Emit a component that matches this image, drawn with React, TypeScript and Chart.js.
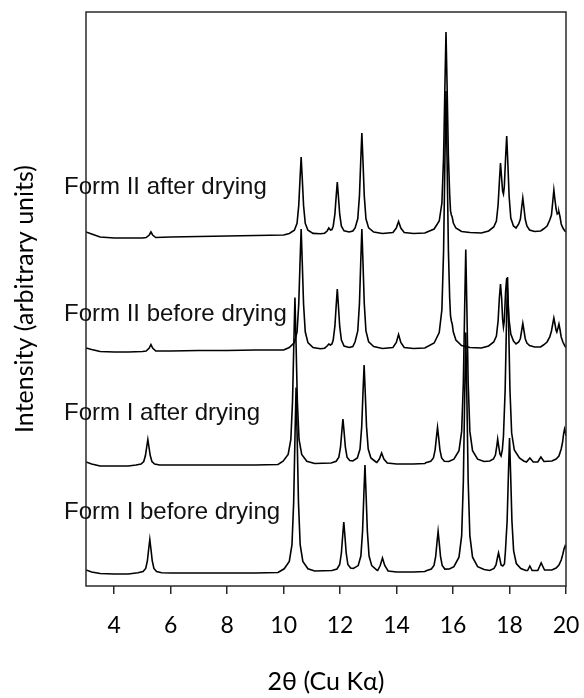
import React, { useEffect, useRef } from 'react';
import { Chart, registerables } from 'chart.js';

Chart.register(...registerables);

// 2θ tick labels
const X_TICKS = [4, 6, 8, 10, 12, 14, 16, 18, 20];

// trace names (top to bottom)
const SERIES_NAMES = [
  'Form II after drying',
  'Form II before drying',
  'Form I after drying',
  'Form I before drying',
];

// label levels (intensity units, same offset scale as traces)
const LABEL_LEVELS = [392, 265, 166, 67];

// [2θ, offset intensity]
const FORM_II_AFTER: [number, number][] = [
  [3.0, 354], [3.2, 352], [3.5, 349], [4.0, 348], [4.5, 348], [5.0, 348],
  [5.13, 348.5], [5.24, 351], [5.3, 354], [5.36, 351], [5.47, 348.5],
  [6, 349], [7, 349.5], [8, 350], [9, 350.5], [10, 351],
  [10.2, 352.6], [10.38, 355.7], [10.475, 362.7], [10.535, 380.6], [10.58, 407], [10.62, 429], [10.66, 407], [10.705, 380.6], [10.765, 362.7], [10.86, 355.7], [11.04, 352.6],
  [11.3, 352.2], [11.45, 352.8], [11.54, 355], [11.6, 358], [11.66, 356], [11.71, 356.5],
  [11.755, 359.8], [11.815, 371.8], [11.86, 389.4], [11.9, 404], [11.94, 389.4], [11.985, 371.8], [12.045, 359.8], [12.14, 355.1], [12.32, 354],
  [12.45, 355], [12.53, 358.1], [12.625, 367.2], [12.685, 390.4], [12.73, 424.7], [12.77, 453], [12.81, 424.7], [12.855, 390.4], [12.915, 367.2], [13.01, 358.1], [13.19, 354],
  [13.5, 352.5], [13.87, 353.5], [13.99, 358], [14.07, 364.5], [14.15, 358], [14.27, 353.5], [14.6, 352.5],
  [15.0, 353], [15.33, 357], [15.51, 365], [15.605, 383], [15.665, 429.4], [15.71, 497.7], [15.75, 554], [15.79, 497.7], [15.835, 429.4], [15.88, 392], [15.91, 375], [15.94, 371], [15.97, 369], [16.01, 363], [16.1, 358], [16.3, 354.5], [16.6, 353.5],
  [17.0, 353], [17.26, 355], [17.44, 359], [17.535, 365], [17.595, 381], [17.64, 404], [17.68, 423], [17.72, 408], [17.755, 395], [17.785, 392], [17.815, 399], [17.86, 428], [17.9, 450], [17.94, 423], [17.985, 390], [18.045, 368], [18.14, 360], [18.23, 358],
  [18.325, 362], [18.385, 367], [18.43, 378.5], [18.47, 388], [18.51, 378.5], [18.555, 367], [18.615, 360], [18.71, 356], [18.89, 354.5],
  [19.1, 355], [19.2, 357], [19.33, 360], [19.425, 366], [19.485, 371], [19.53, 384], [19.57, 396], [19.61, 386], [19.65, 377], [19.69, 372], [19.725, 373], [19.75, 374], [19.79, 369], [19.83, 362], [19.89, 358], [19.96, 355], [20.0, 354],
];

const FORM_II_BEFORE: [number, number][] = [
  [3.0, 238], [3.2, 236.5], [3.5, 234.5], [4.0, 234], [4.5, 234], [5.0, 234.5],
  [5.13, 235], [5.24, 238], [5.3, 241.5], [5.36, 238], [5.47, 235],
  [6, 235], [7, 235.5], [8, 235.5], [9, 236], [10, 236],
  [10.2, 238.4], [10.38, 243.3], [10.475, 254.2], [10.535, 282], [10.58, 323], [10.62, 357], [10.66, 323], [10.705, 282], [10.765, 254.2], [10.86, 243.3], [11.04, 238.4],
  [11.3, 237.2], [11.45, 237.8], [11.54, 240], [11.6, 242], [11.66, 241], [11.71, 242],
  [11.755, 246], [11.815, 259.8], [11.86, 280], [11.9, 297], [11.94, 280], [11.985, 259.8], [12.045, 246], [12.14, 240], [12.32, 238.5],
  [12.45, 239.5], [12.53, 244.2], [12.625, 255], [12.685, 282.6], [12.73, 323.4], [12.77, 357], [12.81, 323.4], [12.855, 282.6], [12.915, 255], [13.01, 244.2], [13.19, 239.4],
  [13.5, 237.5], [13.87, 238.5], [13.99, 243.5], [14.07, 251.5], [14.15, 243.5], [14.27, 238.5], [14.6, 237.5],
  [15.0, 238], [15.33, 243], [15.51, 253.4], [15.605, 276.5], [15.665, 335.7], [15.71, 423], [15.75, 495], [15.79, 423], [15.835, 335.7], [15.88, 288], [15.91, 270], [15.94, 265], [15.97, 262], [16.01, 254], [16.1, 246], [16.3, 240.5], [16.6, 238.5],
  [17.0, 238], [17.26, 240], [17.44, 244], [17.535, 250], [17.595, 265], [17.64, 288], [17.68, 302], [17.72, 288], [17.755, 267], [17.785, 259], [17.815, 265], [17.86, 294], [17.9, 308], [17.94, 289], [17.985, 266], [18.045, 252], [18.14, 245], [18.23, 242],
  [18.325, 244], [18.385, 247.5], [18.43, 255.5], [18.47, 262.5], [18.51, 255.5], [18.555, 247.5], [18.615, 243], [18.71, 240.5], [18.89, 239],
  [19.1, 239], [19.2, 241], [19.33, 244], [19.425, 249], [19.485, 255], [19.53, 262], [19.57, 268], [19.61, 262], [19.645, 256], [19.675, 254], [19.715, 258], [19.75, 262], [19.79, 256], [19.83, 249], [19.89, 244], [19.96, 240], [20.0, 238.5],
];

const FORM_I_AFTER: [number, number][] = [
  [3.0, 124], [3.2, 122], [3.5, 120], [4.0, 120], [4.5, 120],
  [4.77, 121], [4.95, 122], [5.045, 124.5], [5.105, 130.5], [5.15, 139], [5.19, 146.5], [5.23, 139], [5.275, 130.5], [5.335, 124.5], [5.43, 122], [5.61, 121],
  [6, 121], [7, 121], [8, 121], [9, 121], [9.8, 121.5],
  [9.98, 124.8], [10.16, 131.5], [10.255, 146.5], [10.315, 185], [10.36, 241.7], [10.4, 288.5], [10.44, 241.7], [10.485, 185], [10.545, 146.5], [10.64, 131.5], [10.82, 124.8], [11.1, 122.5],
  [11.68, 123], [11.86, 124.7], [11.955, 128.8], [12.015, 139], [12.06, 154.4], [12.1, 167], [12.14, 154.4], [12.185, 139], [12.245, 128.8], [12.34, 125.5], [12.45, 125],
  [12.61, 128], [12.705, 137], [12.765, 159.6], [12.81, 193.3], [12.85, 221], [12.89, 193.3], [12.935, 159.6], [12.995, 137], [13.09, 128], [13.27, 124],
  [13.3, 123.5], [13.39, 127], [13.47, 133], [13.55, 127], [13.67, 123],
  [14.0, 122], [14.6, 122], [15.0, 122.5],
  [15.03, 123.2], [15.21, 124.7], [15.305, 128], [15.365, 136.2], [15.41, 148.4], [15.45, 158.5], [15.49, 148.4], [15.535, 136.2], [15.595, 128], [15.69, 124.7], [15.85, 124.5],
  [16.03, 126.8], [16.21, 135.3], [16.305, 154.6], [16.365, 203.8], [16.41, 276.6], [16.45, 336.5], [16.49, 276.6], [16.535, 203.8], [16.595, 154.6], [16.69, 135.3], [16.87, 126.8], [17.1, 124.5],
  [17.3, 125], [17.43, 127], [17.5, 131], [17.545, 139], [17.58, 147], [17.615, 140], [17.66, 132], [17.7, 130], [17.745, 136], [17.785, 150], [17.845, 196], [17.89, 260], [17.93, 309], [17.97, 260], [18.015, 196], [18.075, 153], [18.17, 136], [18.35, 128], [18.5, 125],
  [18.6, 124], [18.72, 128], [18.84, 124],
  [19.0, 124], [19.11, 129], [19.22, 124.5],
  [19.5, 125], [19.65, 127], [19.75, 130], [19.83, 137], [19.88, 144], [19.915, 152], [19.95, 157], [19.98, 154], [20.0, 150],
];

const FORM_I_BEFORE: [number, number][] = [
  [3.0, 16], [3.2, 14], [3.5, 12.5], [4.0, 12], [4.5, 12],
  [4.84, 13.2], [5.02, 14.5], [5.115, 17.6], [5.175, 25.4], [5.22, 37], [5.26, 46.5], [5.3, 37], [5.345, 25.4], [5.405, 17.6], [5.5, 14.5], [5.68, 13.2],
  [6, 13], [7, 13], [8, 13], [9, 13], [9.8, 13.5],
  [10.02, 17.2], [10.2, 24.6], [10.295, 41.3], [10.355, 83.8], [10.4, 146.7], [10.44, 198.5], [10.48, 146.7], [10.525, 83.8], [10.585, 41.3], [10.68, 24.6], [10.86, 17.2], [11.1, 15],
  [11.71, 15.5], [11.89, 17], [11.985, 21.5], [12.045, 33], [12.09, 50], [12.13, 64], [12.17, 50], [12.215, 33], [12.275, 21.5], [12.37, 18], [12.47, 17.5],
  [12.64, 20.4], [12.735, 30], [12.795, 54.7], [12.84, 91], [12.88, 121], [12.92, 91], [12.965, 54.7], [13.025, 30], [13.12, 20.4], [13.3, 16],
  [13.33, 15.5], [13.42, 20.5], [13.5, 28], [13.58, 20.5], [13.7, 15],
  [14.0, 14], [14.6, 14], [15.0, 14.5],
  [15.05, 15.3], [15.23, 16.9], [15.325, 20.5], [15.385, 29.7], [15.43, 43.3], [15.47, 54.5], [15.51, 43.3], [15.555, 29.7], [15.615, 20.5], [15.71, 16.9], [15.87, 17],
  [16.03, 19.3], [16.21, 28.8], [16.305, 50.4], [16.365, 105.3], [16.41, 186.6], [16.45, 253.5], [16.49, 186.6], [16.535, 105.3], [16.595, 50.4], [16.69, 28.8], [16.87, 19.3], [17.1, 16.5],
  [17.3, 15.5], [17.45, 17.5], [17.52, 21], [17.57, 28], [17.61, 33], [17.65, 28], [17.7, 21], [17.76, 20], [17.82, 22], [17.855, 35], [17.915, 65], [17.96, 111], [18.0, 148], [18.04, 111], [18.085, 65], [18.145, 35], [18.24, 22.5], [18.4, 17.5], [18.58, 15.5],
  [18.64, 15.5], [18.72, 20], [18.8, 15.5],
  [19.0, 15.5], [19.12, 23], [19.24, 16],
  [19.5, 16], [19.65, 18], [19.75, 21], [19.83, 26], [19.88, 31], [19.93, 37], [19.97, 40], [20.0, 38],
];

const SERIES = [FORM_II_AFTER, FORM_II_BEFORE, FORM_I_AFTER, FORM_I_BEFORE];

export default function App() {
  const ref = useRef<HTMLCanvasElement>(null);

  useEffect(() => {
    if (!ref.current) return;

    const framePlugin = {
      id: 'frameAndLabels',
      afterDatasetsDraw(chart: any) {
        const { ctx, chartArea: a, scales } = chart;
        ctx.save();
        ctx.strokeStyle = '#2a2a2a';
        ctx.lineWidth = 1.5;
        ctx.strokeRect(a.left, a.top, a.right - a.left, a.bottom - a.top);
        ctx.fillStyle = '#111';
        ctx.font = '24px "Liberation Sans", Arial, sans-serif';
        ctx.textAlign = 'left';
        ctx.textBaseline = 'alphabetic';
        SERIES_NAMES.forEach((name, i) => {
          ctx.fillText(name, a.left - 22, scales.y.getPixelForValue(LABEL_LEVELS[i]));
        });
        ctx.restore();
      },
    };

    const chart = new Chart(ref.current, {
      type: 'line',
      data: {
        datasets: SERIES.map((s, i) => ({
          label: SERIES_NAMES[i],
          data: s.map(([x, y]) => ({ x, y })),
          borderColor: '#000',
          borderWidth: 1.6,
          pointRadius: 0,
          tension: 0,
          fill: false,
        })),
      },
      options: {
        animation: false,
        responsive: false,
        devicePixelRatio: 1,
        layout: { padding: { left: 0, right: 18, top: 12, bottom: 0 } },
        plugins: { legend: { display: false }, tooltip: { enabled: false } },
        scales: {
          x: {
            type: 'linear',
            min: 3,
            max: 20,
            afterBuildTicks: (scale: any) => {
              scale.ticks = X_TICKS.map((v) => ({ value: v }));
            },
            afterFit: (scale: any) => {
              scale.height = 112;
              scale.paddingLeft = 0;
              scale.paddingRight = 0;
            },
            grid: {
              display: true,
              drawOnChartArea: false,
              drawTicks: true,
              tickLength: 8,
              color: '#2a2a2a',
              lineWidth: 1.5,
            },
            border: { display: false },
            ticks: {
              autoSkip: false,
              maxRotation: 0,
              padding: 18,
              color: '#000',
              font: { family: 'Lato, "Open Sans", sans-serif', size: 23 },
              callback: (v: any) => String(v),
            },
            title: {
              display: true,
              text: '2θ (Cu Kα)',
              color: '#000',
              font: { family: 'Lato, "Open Sans", sans-serif', size: 25 },
              padding: { top: 0, bottom: 1 },
            },
          },
          y: {
            type: 'linear',
            min: 0,
            max: 574,
            afterFit: (scale: any) => {
              scale.width = 86;
            },
            grid: { display: false },
            border: { display: false },
            ticks: { display: false },
            title: {
              display: true,
              text: 'Intensity (arbitrary units)',
              color: '#000',
              font: { family: 'Lato, "Open Sans", sans-serif', size: 25 },
              padding: { top: 10, bottom: 0 },
            },
          },
        },
      },
      plugins: [framePlugin],
    });

    return () => chart.destroy();
  }, []);

  return (
    <div style={{ position: 'fixed', left: 0, top: 0, width: 584, height: 698, background: '#fff' }}>
      <canvas ref={ref} width={584} height={698} style={{ display: 'block', width: 584, height: 698 }} />
    </div>
  );
}
